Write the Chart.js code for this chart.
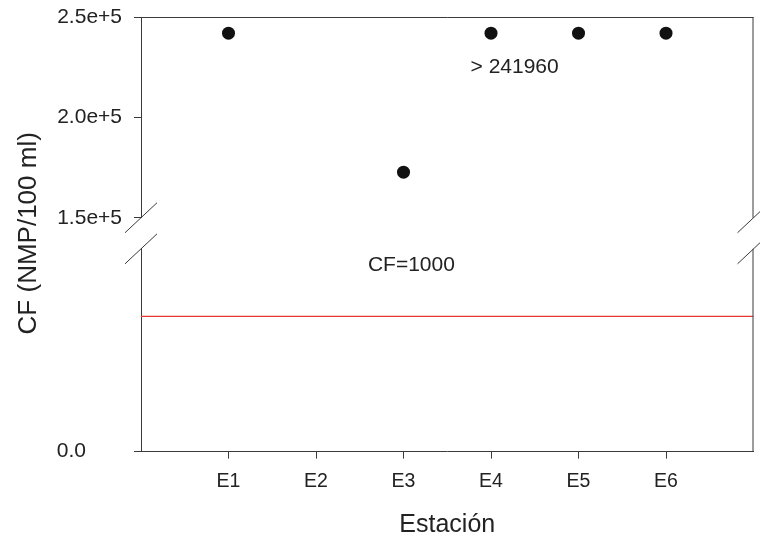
<!DOCTYPE html>
<html>
<head>
<meta charset="utf-8">
<script src="https://cdn.jsdelivr.net/npm/chart.js@4.4.0/dist/chart.umd.min.js"></script>
<style>
  body { margin: 0; background: #fff; }
  #wrap { width: 760px; height: 540px; }
</style>
</head>
<body>
<div id="wrap"><canvas id="cf-chart"></canvas></div>
<script>
// data
var stations = ['E1', 'E2', 'E3', 'E4', 'E5', 'E6'];
var cfValues = [241960, null, 172700, 241960, 241960, 241960];
var cfLimit = 1000;
var upperTicks = [150000, 200000, 250000];
var upperLabels = ['1.5e+5', '2.0e+5', '2.5e+5'];
var lowerTicks = [0];
var lowerLabels = ['0.0'];
var noteTexts = ['> 241960', 'CF=1000'];

var FONT = 'Liberation Sans, Arial, sans-serif';
var INK = '#222';
var AXIS = '#3a3a3a';

var points = [];
stations.forEach(function(s, i){
  if (cfValues[i] !== null) points.push({x: i + 1, y: cfValues[i]});
});

// stacked y scales: keep their label padding from pushing the plot area
function fixWidth(scale){
  scale.width = 141;
  scale.paddingTop = 0;
  scale.paddingBottom = 0;
}

// axis frame, break marks and the two notes
var framePlugin = {
  id: 'frame',
  afterDraw: function(chart){
    var ctx = chart.ctx;
    var area = chart.chartArea;
    var up = chart.scales.yUp, low = chart.scales.yLow, x = chart.scales.x;
    ctx.save();
    ctx.strokeStyle = AXIS;
    ctx.lineWidth = 1;
    ctx.beginPath();
    ctx.moveTo(area.left, up.top + 0.5);
    ctx.lineTo(area.right, up.top + 0.5);
    ctx.moveTo(area.right - 0.5, up.top);
    ctx.lineTo(area.right - 0.5, up.bottom);
    ctx.moveTo(area.right - 0.5, low.top);
    ctx.lineTo(area.right - 0.5, low.bottom);
    [area.left, area.right].forEach(function(bx){
      [up.bottom, low.top].forEach(function(by){
        ctx.moveTo(bx - 16, by + 15);
        ctx.lineTo(bx + 16, by - 15);
      });
    });
    ctx.stroke();

    ctx.fillStyle = INK;
    ctx.font = '21px ' + FONT;
    ctx.textAlign = 'center';
    ctx.textBaseline = 'middle';
    ctx.fillText(noteTexts[0], x.getPixelForValue(4.27), up.getPixelForValue(225000));
    ctx.fillText(noteTexts[1], x.getPixelForValue(3.09), low.getPixelForValue(1381));
    ctx.restore();
  }
};

var ctx = document.getElementById('cf-chart').getContext('2d');
var myChart = new Chart(ctx, {
  type: 'scatter',
  data: {
    datasets: [
      {
        data: points,
        yAxisID: 'yUp',
        backgroundColor: '#111',
        borderWidth: 0,
        pointRadius: 6.5,
        pointHoverRadius: 6.5
      },
      {
        type: 'line',
        data: [{x: 0, y: cfLimit}, {x: 7, y: cfLimit}],
        yAxisID: 'yLow',
        borderColor: '#e5382e',
        borderWidth: 1.2,
        pointRadius: 0,
        showLine: true
      }
    ]
  },
  options: {
    responsive: true,
    maintainAspectRatio: false,
    animation: false,
    layout: { padding: { top: 17, right: 3, bottom: 0, left: 0 } },
    plugins: {
      legend: { display: false },
      tooltip: { enabled: false }
    },
    scales: {
      x: {
        type: 'linear',
        min: 0,
        max: 7,
        afterBuildTicks: function(scale){
          scale.ticks = stations.map(function(s, i){ return {value: i + 1}; });
        },
        ticks: {
          color: INK,
          font: { family: FONT, size: 19.5 },
          padding: 11,
          maxRotation: 0,
          callback: function(value){ return stations[value - 1]; }
        },
        grid: { drawOnChartArea: false, tickLength: 7, color: AXIS },
        border: { color: AXIS },
        title: {
          display: true,
          text: 'Estación',
          color: INK,
          font: { family: FONT, size: 25 },
          padding: { top: 6, bottom: 0 }
        }
      },
      yLow: {
        type: 'linear',
        position: 'left',
        stack: 'cf',
        stackWeight: 202,
        min: 0,
        max: 1500,
        afterBuildTicks: function(scale){
          scale.ticks = lowerTicks.map(function(v){ return {value: v}; });
        },
        afterFit: fixWidth,
        ticks: {
          color: INK,
          font: { family: FONT, size: 21 },
          padding: 48,
          callback: function(value){ return lowerLabels[lowerTicks.indexOf(value)]; }
        },
        grid: { drawOnChartArea: false, tickLength: 7, color: AXIS },
        border: { color: AXIS }
      },
      yGap: {
        type: 'linear',
        position: 'left',
        stack: 'cf',
        stackWeight: 31,
        min: 0,
        max: 1,
        afterFit: fixWidth,
        ticks: { display: false },
        grid: { display: false },
        border: { display: false },
        title: {
          display: true,
          text: 'CF (NMP/100 ml)',
          color: INK,
          font: { family: FONT, size: 26 },
          padding: { top: 13, bottom: 0 }
        }
      },
      yUp: {
        type: 'linear',
        position: 'left',
        stack: 'cf',
        stackWeight: 200,
        min: 150000,
        max: 250000,
        afterBuildTicks: function(scale){
          scale.ticks = upperTicks.map(function(v){ return {value: v}; });
        },
        afterFit: fixWidth,
        ticks: {
          color: INK,
          font: { family: FONT, size: 21 },
          padding: 12,
          callback: function(value){ return upperLabels[upperTicks.indexOf(value)]; }
        },
        grid: { drawOnChartArea: false, tickLength: 7, color: AXIS },
        border: { color: AXIS }
      }
    }
  },
  plugins: [framePlugin]
});
</script>
</body>
</html>
